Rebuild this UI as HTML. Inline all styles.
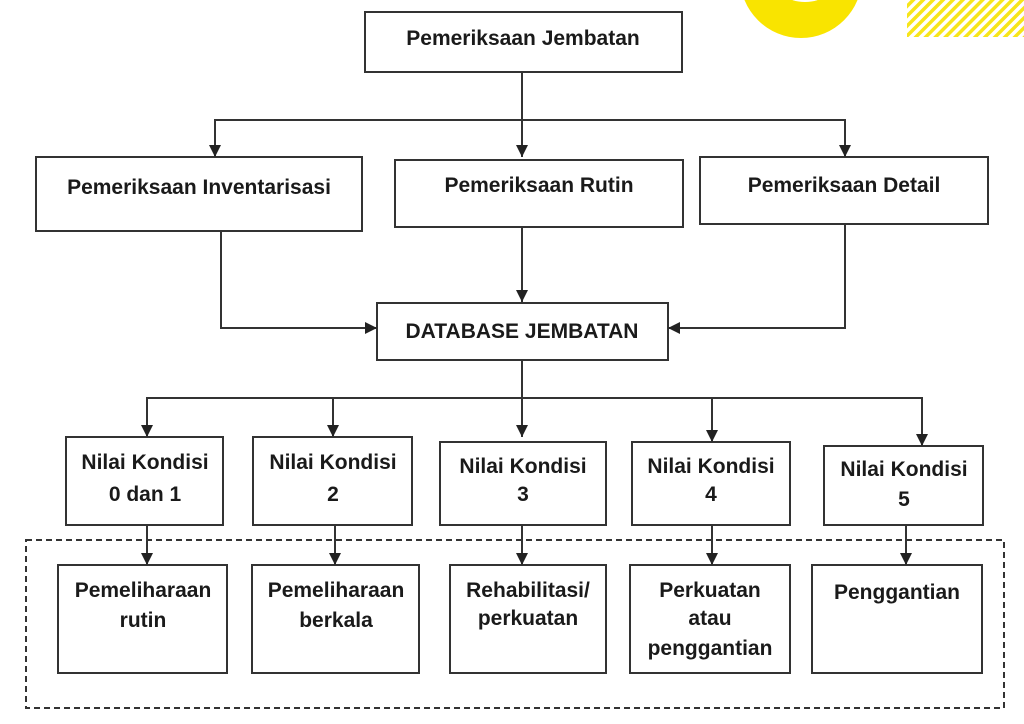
<!DOCTYPE html>
<html><head><style>html,body{margin:0;padding:0;background:#fff;}svg{display:block;}
text{font-family:"Liberation Sans Narrow","Liberation Sans",sans-serif;font-weight:bold;font-size:21px;fill:#1a1a1a;text-anchor:middle;}</style></head>
<body>
<svg width="1024" height="724" viewBox="0 0 1024 724" xmlns="http://www.w3.org/2000/svg">
<defs>
<marker id="a" viewBox="0 0 10 10" refX="10" refY="5" markerWidth="12" markerHeight="12" markerUnits="userSpaceOnUse" orient="auto"><path d="M0,0L10,5L0,10z" fill="#222"/></marker>
<pattern id="h" width="7" height="7" patternUnits="userSpaceOnUse" patternTransform="rotate(45)"><rect width="3.5" height="7" fill="#f7e51a"/></pattern>
</defs>
<circle cx="801" cy="-23" r="61" fill="#f9e400"/>
<ellipse cx="805" cy="-4" rx="17" ry="6" fill="#fff"/>
<rect x="907" y="0" width="117" height="37" fill="url(#h)"/>
<g fill="none" stroke="#333" stroke-width="2">
<rect x="365" y="12" width="317" height="60"/>
<rect x="36" y="157" width="326" height="74"/>
<rect x="395" y="160" width="288" height="67"/>
<rect x="700" y="157" width="288" height="67"/>
<rect x="377" y="303" width="291" height="57"/>
<rect x="66" y="437" width="157" height="88"/>
<rect x="253" y="437" width="159" height="88"/>
<rect x="440" y="442" width="166" height="83"/>
<rect x="632" y="442" width="158" height="83"/>
<rect x="824" y="446" width="159" height="79"/>
<rect x="58" y="565" width="169" height="108"/>
<rect x="252" y="565" width="167" height="108"/>
<rect x="450" y="565" width="156" height="108"/>
<rect x="630" y="565" width="160" height="108"/>
<rect x="812" y="565" width="170" height="108"/>
<rect x="26" y="540" width="978" height="168" stroke-dasharray="6,4"/>
</g>
<g fill="none" stroke="#333" stroke-width="2" marker-end="url(#a)">
<path d="M522,72V157"/>
<path d="M522,120H215V157"/>
<path d="M522,120H845V157"/>
<path d="M221,231V328H377"/>
<path d="M522,227V302"/>
<path d="M845,224V328H668"/>
<path d="M522,360V437"/>
<path d="M522,398H147V437"/>
<path d="M522,398H333V437"/>
<path d="M522,398H712V442"/>
<path d="M522,398H922V446"/>
<path d="M147,525V565"/>
<path d="M335,525V565"/>
<path d="M522,525V565"/>
<path d="M712,525V565"/>
<path d="M906,525V565"/>
</g>
<text x="523" y="45">Pemeriksaan Jembatan</text>
<text x="199" y="194">Pemeriksaan Inventarisasi</text>
<text x="539" y="192">Pemeriksaan Rutin</text>
<text x="844" y="192">Pemeriksaan Detail</text>
<text x="522" y="338">DATABASE JEMBATAN</text>
<text x="145" y="469">Nilai Kondisi</text><text x="145" y="501">0 dan 1</text>
<text x="333" y="469">Nilai Kondisi</text><text x="333" y="501">2</text>
<text x="523" y="473">Nilai Kondisi</text><text x="523" y="501">3</text>
<text x="711" y="473">Nilai Kondisi</text><text x="711" y="501">4</text>
<text x="904" y="476">Nilai Kondisi</text><text x="904" y="506">5</text>
<text x="143" y="597">Pemeliharaan</text><text x="143" y="627">rutin</text>
<text x="336" y="597">Pemeliharaan</text><text x="336" y="627">berkala</text>
<text x="528" y="597">Rehabilitasi/</text><text x="528" y="625">perkuatan</text>
<text x="710" y="597">Perkuatan</text><text x="710" y="625">atau</text><text x="710" y="655">penggantian</text>
<text x="897" y="599">Penggantian</text>
</svg>
</body></html>
